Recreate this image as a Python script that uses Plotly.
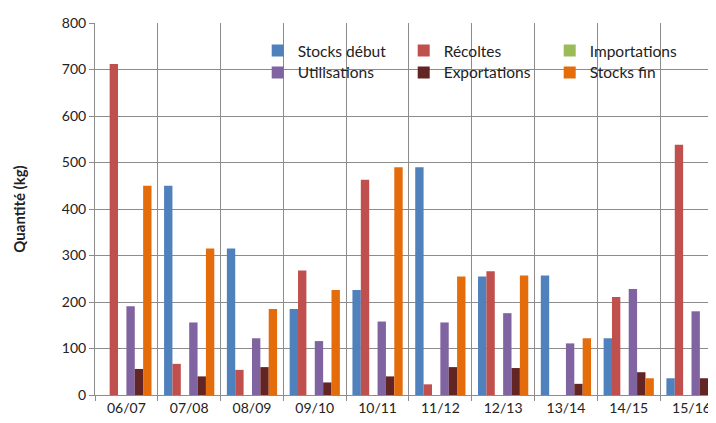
import plotly.graph_objects as go

categories = ["06/07", "07/08", "08/09", "09/10", "10/11", "11/12", "12/13", "13/14", "14/15", "15/16"]
stocks_debut = [0, 450, 315, 185, 226, 490, 255, 257, 122, 36]
recoltes = [712, 67, 54, 268, 463, 23, 266, 0, 211, 538]
importations = [0, 0, 0, 0, 0, 0, 0, 0, 0, 0]
utilisations = [191, 156, 122, 116, 158, 156, 176, 111, 228, 180]
exportations = [56, 40, 60, 27, 40, 60, 58, 24, 49, 36]
stocks_fin = [450, 315, 185, 226, 490, 255, 257, 122, 36, 357]
y_ticks = [0, 100, 200, 300, 400, 500, 600, 700, 800]

series = [
    ("Stocks début", stocks_debut, "#4F81BD", "legend"),
    ("Récoltes", recoltes, "#C0504D", "legend"),
    ("Importations", importations, "#9BBB59", "legend"),
    ("Utilisations", utilisations, "#8064A2", "legend2"),
    ("Exportations", exportations, "#632523", "legend2"),
    ("Stocks fin", stocks_fin, "#E46C0A", "legend2"),
]

FONT = "Lato, Open Sans, sans-serif"
fig = go.Figure()
for name, vals, color, lg in series:
    fig.add_trace(go.Bar(x=categories, y=vals, name=name, marker_color=color,
                         marker_line_width=0, legend=lg))

grid = "#8C8C8C"
legend_common = dict(orientation="h", xanchor="left", yanchor="middle",
                     bgcolor="rgba(0,0,0,0)", font=dict(family=FONT, size=15.5, color="#222"),
                     entrywidth=101, entrywidthmode="pixels", itemwidth=30,
                     tracegroupgap=0)

fig.update_layout(
    width=708, height=415,
    margin=dict(l=87, r=0, t=15, b=28),
    paper_bgcolor="white", plot_bgcolor="white",
    barmode="group", bargap=0.2, bargroupgap=0,
    font=dict(family=FONT, size=14, color="#222"),
    legend=dict(x=0.262, y=0.925, **legend_common),
    legend2=dict(x=0.262, y=0.866, **legend_common),
    xaxis=dict(
        type="category", range=[-0.5, 9.39], tickson="boundaries",
        showgrid=True, gridcolor=grid, gridwidth=1,
        showline=True, linecolor=grid, linewidth=1,
        ticks="outside", ticklen=5, tickcolor=grid,
        tickfont=dict(family=FONT, size=14, color="#222"),
    ),
    yaxis=dict(
        range=[0, 800], tickvals=y_ticks, showgrid=True, gridcolor=grid, gridwidth=1,
        showline=True, linecolor=grid, linewidth=1, zeroline=False,
        ticks="outside", ticklen=5, tickcolor=grid,
        tickfont=dict(family=FONT, size=14, color="#222"),
        title=dict(text="<b>Quantité (kg)</b>", font=dict(family=FONT, size=15, color="#222"), standoff=32),
    ),
)

fig.write_html("out.html")
